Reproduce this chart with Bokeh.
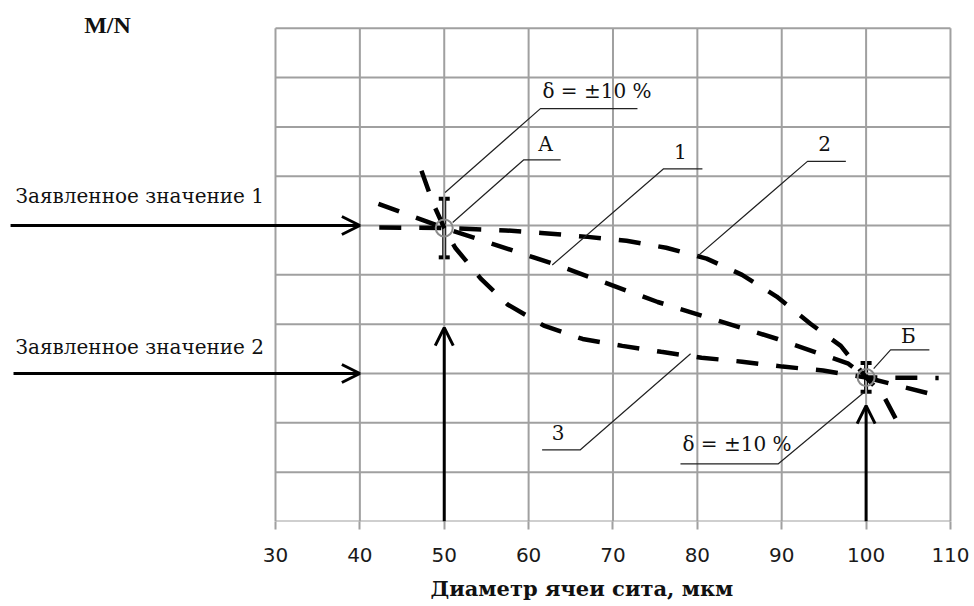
from bokeh.plotting import figure
from bokeh.models import (ColumnDataSource, Range1d, FixedTicker, Arrow, OpenHead,
                          Whisker, TeeHead, Title)
from bokeh.core.properties import value
from bokeh.embed import file_html
from bokeh.resources import INLINE

# ---------------- data ----------------
x_ticks = [30, 40, 50, 60, 70, 80, 90, 100, 110]
y_grid = [0, 1, 2, 3, 4, 5, 6, 7, 8, 9, 10]

# reference points A and Б with ±10 % band
point_name = ["А", "Б"]
point_x = [50, 100]
point_y = [5.95, 2.92]
delta = 0.10

# dashed curves 1, 2, 3
curve1_x = [42.2, 50, 63.0, 75.3, 89.5, 97.9, 100, 108.5]
curve1_y = [6.44, 5.95, 5.22, 4.45, 3.70, 3.20, 2.92, 2.55]

curve2_x = [42.3, 50, 57.3, 61.5, 67.0, 71.6, 76.3, 81.1, 85.3, 89.4, 93.4, 97.0, 100, 102.0, 104.4]
curve2_y = [5.96, 5.95, 5.90, 5.85, 5.77, 5.69, 5.55, 5.33, 5.00, 4.56, 4.01, 3.56, 2.92, 2.57, 1.80]

curve3_x = [47.3, 48.7, 50, 51.3, 54.3, 57.5, 61.8, 66.4, 71.1, 75.7, 80.5, 85.3, 90.1, 94.9, 100, 108.6]
curve3_y = [7.11, 6.44, 5.95, 5.55, 4.93, 4.40, 3.97, 3.70, 3.56, 3.44, 3.32, 3.24, 3.14, 3.06, 2.92, 2.91]

# declared values (horizontal arrows) and sieve sizes (vertical arrows)
declared_text = ["Заявленное значение 1", "Заявленное значение 2"]
declared_y = [6, 3]
declared_text_y = [6.59, 3.54]
harrow_x0 = [-1.4, -1.05]
harrow_x1 = [40, 40]
varrow_x = [50, 100]
varrow_top = [3.93, 2.35]

# callouts: text, leader tip, elbow, underline end
call_text = ["δ = ±10 %", "А", "1", "2", "Б", "δ = ±10 %", "3"]
call_tip_x = [50.1, 51.0, 62.8, 80.1, 100.9, 99.7, 79.2]
call_tip_y = [6.67, 6.06, 5.20, 5.39, 3.10, 2.61, 3.40]
call_elb_x = [61.4, 59.4, 76.0, 93.05, 102.9, 89.6, 66.1]
call_elb_y = [8.37, 7.33, 7.15, 7.30, 3.48, 1.17, 1.45]
call_end_x = [72.9, 63.8, 80.6, 97.6, 107.5, 78.0, 61.6]
call_txt_x = [68.1, 62.0, 78.0, 95.07, 105.0, 84.7, 63.5]
call_txt_y = [8.72, 7.65, 7.50, 7.66, 3.77, 1.57, 1.80]

y_label = "M/N"
x_label = "Диаметр ячеи сита, мкм"

# ---------------- figure ----------------
p = figure(frame_width=952, frame_height=521,
           x_range=Range1d(-2.593, 110.24), y_range=Range1d(0, 10.562),
           output_backend="svg", toolbar_location=None, y_axis_location=None,
           min_border=0, min_border_right=20, outline_line_color=None,
           background_fill_color="white", border_fill_color="white")
p.xgrid.visible = False
p.ygrid.visible = False

ax = p.xaxis[0]
ax.ticker = FixedTicker(ticks=x_ticks)
ax.axis_line_color = None
ax.major_tick_line_color = "#a0a0a0"
ax.major_tick_line_width = 2
ax.major_tick_in = 0
ax.major_tick_out = 8
ax.minor_tick_line_color = None
ax.major_label_standoff = 18
ax.major_label_text_font = "DejaVu Sans"
ax.major_label_text_font_size = "20px"
ax.major_label_text_color = "#1a1a1a"

p.add_layout(Title(text=x_label, align="left", offset=430, standoff=18,
                   text_font="DejaVu Serif", text_font_style="bold",
                   text_font_size="21px", text_color="#111111"), "below")

# grid box
p.segment(x0=x_ticks, y0=[y_grid[0]] * len(x_ticks), x1=x_ticks, y1=[y_grid[-1]] * len(x_ticks),
          line_color="#a0a0a0", line_width=2)
p.segment(x0=[x_ticks[0]] * len(y_grid), y0=y_grid, x1=[x_ticks[-1]] * len(y_grid), y1=y_grid,
          line_color="#a0a0a0", line_width=2)

# dashed curves
for cx, cy in [(curve1_x, curve1_y), (curve2_x, curve2_y), (curve3_x, curve3_y)]:
    p.line(cx, cy, line_color="black", line_width=4.5, line_dash="22 18")

# markers
p.scatter(point_x, point_y, marker="circle", size=17, fill_color=None,
          line_color="#8a8a8a", line_width=2)

# error bars ±10 %
err = ColumnDataSource(dict(x=point_x,
                            upper=[v * (1 + delta) for v in point_y],
                            lower=[v * (1 - delta) for v in point_y]))
p.add_layout(Whisker(source=err, base="x", upper="upper", lower="lower", dimension="height",
                     line_color="black", line_width=4,
                     upper_head=TeeHead(size=11, line_width=4, line_color="black"),
                     lower_head=TeeHead(size=11, line_width=4, line_color="black")))

# arrows
hsrc = ColumnDataSource(dict(x0=harrow_x0, x1=harrow_x1, y=declared_y))
p.add_layout(Arrow(source=hsrc, x_start="x0", y_start="y", x_end="x1", y_end="y",
                   line_width=3, line_color="black",
                   end=OpenHead(size=18, line_width=3, line_color="black")))
vsrc = ColumnDataSource(dict(x=varrow_x, y0=[0] * len(varrow_x), y1=varrow_top))
p.add_layout(Arrow(source=vsrc, x_start="x", y_start="y0", x_end="x", y_end="y1",
                   line_width=3, line_color="black",
                   end=OpenHead(size=18, line_width=3, line_color="black")))

# callout leaders
xs = [[t, e, u] for t, e, u in zip(call_tip_x, call_elb_x, call_end_x)]
ys = [[t, e, e] for t, e in zip(call_tip_y, call_elb_y)]
p.multi_line(xs, ys, line_color="#222222", line_width=1.2)

p.text(call_txt_x, call_txt_y, text=call_text, text_align="center", text_baseline="middle",
       text_font=value("DejaVu Serif"), text_font_size="20px", text_color="#111111")

p.text([-0.81] * 2, declared_text_y, text=declared_text, text_align="left",
       text_baseline="middle", text_font=value("DejaVu Serif"), text_font_size="20px",
       text_color="#111111")

p.text([10.09], [10.07], text=[y_label], text_align="center", text_baseline="middle",
       text_font=value("Liberation Serif"), text_font_style="bold", text_font_size="24px",
       text_color="#111111")

open("out.html", "w").write(file_html(p, INLINE))
